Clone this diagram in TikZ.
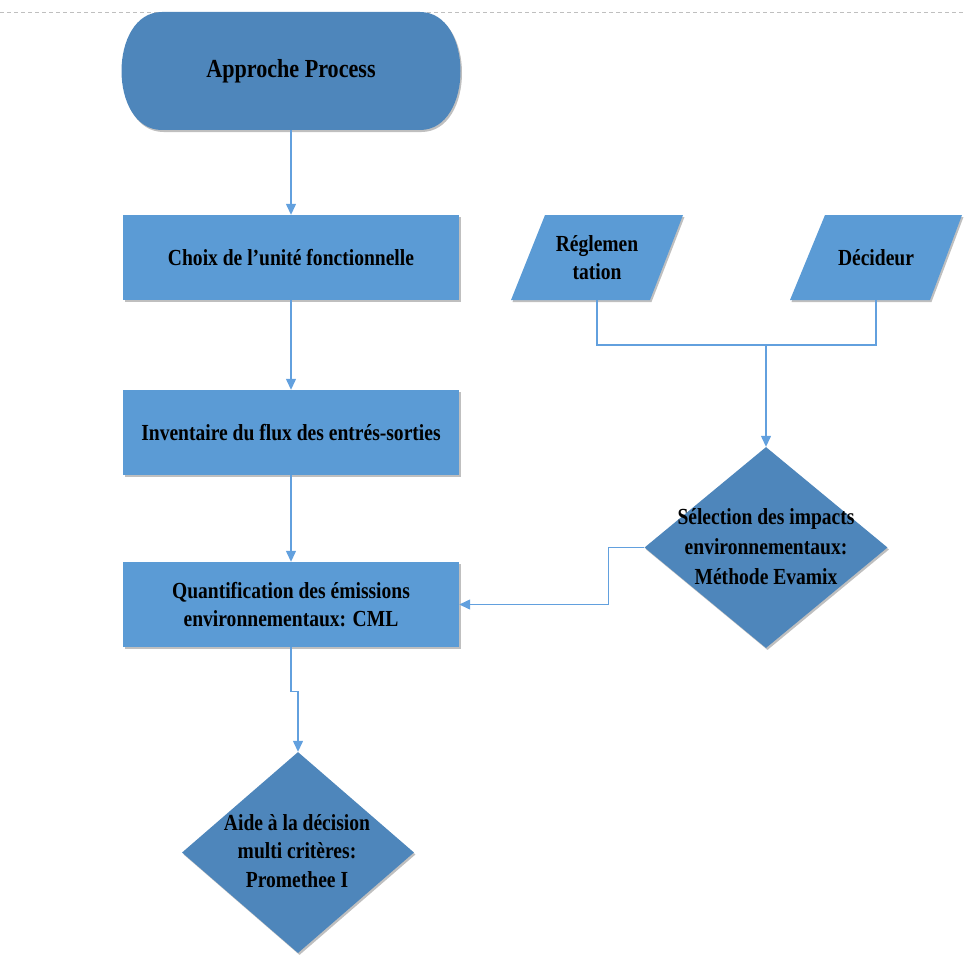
\documentclass[tikz,border=0pt]{standalone}
\usepackage{fontspec}
\setmainfont{Liberation Serif}[FakeStretch=0.85]
\usetikzlibrary{shapes.geometric,arrows.meta,shadows}
\definecolor{lightblue}{RGB}{91,155,213}
\definecolor{darkblue}{RGB}{78,134,187}
\definecolor{linkblue}{RGB}{98,160,222}
\begin{document}
\begin{tikzpicture}[x=1pt,y=-1pt,
  lbl/.style={font=\fontsize{23}{28.5}\selectfont\bfseries, align=center, text=black},
  shad/.style={drop shadow={shadow xshift=1.5pt, shadow yshift=-2pt, opacity=0.25, fill=black}},
  procbox/.style={lbl, rectangle, fill=lightblue, shad, minimum width=336pt, minimum height=85pt, inner sep=0pt},
  ghost/.style={lbl, rectangle, minimum width=172pt, minimum height=85pt, inner sep=0pt},
  decis/.style={diamond, fill=darkblue, shad, inner sep=0pt, minimum height=201pt},
  para/.style={fill=lightblue, shad},
  link/.style={draw=linkblue, line width=1.3pt},
  conn/.style={link, -{Triangle[width=10pt,length=11pt]}}]
\useasboundingbox (0,0) rectangle (964,979);
\draw[black!25, dashed, line width=1pt, dash pattern=on 4pt off 3pt] (0,13) -- (964,13);

% terminal
\fill[darkblue, shad] (162,12) -- (420,12) .. controls (474,12) and (474,130) .. (420,130) -- (162,130) .. controls (108,130) and (108,12) .. (162,12) -- cycle;
\node[lbl, font=\fontsize{26}{30}\selectfont\bfseries, minimum width=338pt, minimum height=118pt, inner sep=0pt] (t) at (291,71) {Approche Process};

% process boxes
\node[procbox] (c) at (291,257.5) {Choix de l’unité fonctionnelle};
\node[procbox] (i) at (291,432.5) {Inventaire du flux des entrés-sorties};
\node[procbox] (q) at (291,604.5) {Quantification des émissions\\environnementaux: CML};

% parallelograms
\fill[para] (545,215) -- (683,215) -- (650,300) -- (511,300) -- cycle;
\node[ghost] (r) at (597,257.5) {Réglemen\\tation};
\fill[para] (825,215) -- (962,215) -- (930,300) -- (790,300) -- cycle;
\node[ghost] (d) at (876,257.5) {Décideur};

% diamonds
\node[decis, minimum width=243pt] (s) at (766,547.5) {};
\node[lbl, font=\fontsize{23}{30}\selectfont\bfseries] (st) at (766,547) {Sélection des impacts\\environnementaux:\\Méthode Evamix};
\node[decis, minimum width=232pt] (a) at (298,852.5) {};
\node[lbl] (at) at (297,851) {Aide à la décision\\multi critères:\\Promethee I};

% connectors
\coordinate (j) at (766,345);
\draw[conn] (t.south) -- (c.north);
\draw[conn] (c.south) -- (i.north);
\draw[conn] (i.south) -- (q.north);
\draw[conn] (q.south) -- ++(0,44) -| (a.north);
\draw[link] (r.south) |- (j) -| (d.south);
\draw[conn] (j) -- (s.north);
\draw[conn] (s.west) -- ++(-36,0) |- (q.east);
\end{tikzpicture}
\end{document}
